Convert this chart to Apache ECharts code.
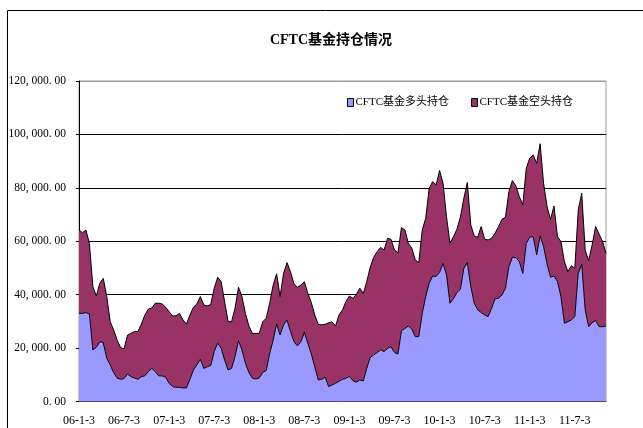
<!DOCTYPE html>
<html>
<head>
<meta charset="utf-8">
<script src="https://cdn.jsdelivr.net/npm/echarts@6/dist/echarts.min.js"></script>
<style>
  html, body { margin: 0; padding: 0; background: #fff; }
  #chart { width: 643px; height: 428px; }
</style>
</head>
<body>
<div id="chart"></div>
<script>
// half-year tick labels on the x axis
var tickLabels = ["06-1-3", "06-7-3", "07-1-3", "07-7-3", "08-1-3", "08-7-3",
  "09-1-3", "09-7-3", "10-1-3", "10-7-3", "11-1-3", "11-7-3"];

// 多头持仓 (bottom area), one point every two weeks
var longData = [
  33000, 33000, 33300, 32800, 19300, 20300, 22400, 22000, 16200, 13700, 10800, 8800, 8300,
  8600, 10300, 9300, 8800, 8300, 9300, 9600, 11200, 12400, 11200, 9600, 9600, 9100,
  6800, 5600, 5300, 5300, 5100, 5100, 8300, 11800, 13700, 15800, 12400, 13000, 13500,
  18700, 21800, 19900, 15500, 11800, 12400, 16800, 22800, 19300, 14300, 10900, 8700, 8400,
  8800, 10900, 11600, 18000, 23000, 29000, 24900, 28700, 30500, 26200, 22400, 20800, 22400,
  25900, 21800, 17800, 13000, 8100, 8300, 9100, 5600, 6200, 6800, 7600, 8300, 8700,
  9400, 7800, 7200, 8100, 7700, 12400, 16500, 17400, 18300, 19300, 18700, 19900, 20500,
  18300, 17800, 26500, 27300, 28300, 27000, 24300, 24300, 33000, 39300, 44300, 47000, 46800,
  48300, 51700, 47400, 36800, 38500, 40800, 42000, 49900, 52000, 43000, 36800, 34300, 33300,
  32400, 31800, 34900, 38500, 38600, 39900, 42400, 50500, 54000, 53900, 52400, 48000, 59200,
  61500, 61700, 54900, 62000, 58000, 51500, 46500, 47000, 44900, 39300, 29300, 29900, 30500,
  31800, 48000, 51500, 34300, 28000, 29500, 30300, 28000, 28000, 28300
];

// 空头持仓 (stacked on top)
var shortData = [
  31200, 30200, 30900, 26400, 23700, 19200, 21900, 24100, 23100, 16200, 16000, 14200, 11900,
  11100, 14600, 16200, 17400, 17900, 19700, 22800, 23400, 22600, 25600, 27200, 26900, 26200,
  26800, 26400, 26800, 27700, 25400, 23900, 24100, 23500, 22800, 23500, 23700, 22800, 22800,
  23700, 24700, 25000, 21900, 18100, 17500, 18100, 20000, 20000, 18700, 17400, 16800, 17100,
  16700, 19000, 19600, 18800, 20600, 18800, 14400, 19300, 21500, 22400, 21600, 22000, 21200,
  18900, 18700, 19300, 19400, 20800, 20400, 19800, 23900, 23600, 21500, 24800, 26000, 28700,
  30100, 30800, 32900, 34300, 32800, 32500, 33800, 36600, 37800, 38400, 38000, 41200, 40200,
  38400, 37900, 38600, 36900, 30900, 30400, 28700, 27700, 31200, 29300, 35500, 35300, 34300,
  38200, 30000, 21800, 22400, 23200, 23700, 27000, 26200, 30000, 23100, 25200, 27200, 32200,
  28300, 28700, 26200, 24500, 26900, 28300, 26600, 28100, 28700, 26800, 24300, 25600, 28100,
  29600, 30600, 34300, 34500, 23700, 21500, 21700, 26200, 16800, 20600, 23100, 18700, 20300,
  18100, 23700, 26500, 22400, 24700, 29100, 35200, 34700, 31900, 27200
];

var seriesNames = ["CFTC基金多头持仓", "CFTC基金空头持仓"];

// 13 biweekly points per half year, label only on the first one
var categories = [];
for (var k = 0; k < tickLabels.length; k++) {
  for (var j = 0; j < 13; j++) {
    categories.push(j === 0 ? tickLabels[k] : tickLabels[k] + " +" + (j * 2) + "w");
  }
}
categories.length = longData.length;

var serif = "'Liberation Serif', 'Noto Sans CJK SC', serif";

// the original font puts a gap after the separators: "120, 000. 00"
function fmt(v) {
  return v.toFixed(2).replace(/\B(?=(\d{3})+(?!\d))/g, ", ").replace(".", ". ");
}

var myChart = echarts.init(document.getElementById("chart"));
myChart.setOption({
  animation: false,
  backgroundColor: "#fff",
  graphic: [
    {
      type: "rect",
      shape: { x: 7.5, y: 10.5, width: 700, height: 500 },
      style: { fill: "none", stroke: "#000", lineWidth: 1 },
      silent: true
    }
  ],
  title: {
    text: "CFTC基金持仓情况",
    left: 326,
    textAlign: "center",
    top: 28,
    textStyle: { fontFamily: serif, fontSize: 14, fontWeight: "bold", color: "#000" }
  },
  legend: {
    data: [
      { name: seriesNames[0], itemStyle: { color: "#9999FF", borderColor: "#000", borderWidth: 1 } },
      { name: seriesNames[1], itemStyle: { color: "#993366", borderColor: "#000", borderWidth: 1 } }
    ],
    icon: "rect",
    itemWidth: 6,
    itemHeight: 8,
    itemGap: 22,
    left: 342,
    top: 92,
    textStyle: { fontFamily: serif, fontSize: 11, color: "#000", padding: [0, 0, 0, -3] }
  },
  grid: {
    left: 79,
    right: 37,
    top: 81,
    bottom: 26.5,
    show: true,
    borderColor: "#999",
    borderWidth: 1
  },
  xAxis: {
    type: "category",
    boundaryGap: false,
    data: categories,
    axisLine: { lineStyle: { color: "#000", width: 1 } },
    axisTick: { interval: 12, inside: true, length: 4, lineStyle: { color: "#000" } },
    axisLabel: {
      interval: 12,
      margin: 13,
      fontFamily: serif,
      fontSize: 12,
      color: "#000"
    },
    splitLine: { show: false }
  },
  yAxis: {
    type: "value",
    min: 0,
    max: 120000,
    interval: 20000,
    axisLine: { show: true, lineStyle: { color: "#000", width: 1 } },
    axisTick: { show: true, length: 3, lineStyle: { color: "#000" } },
    axisLabel: {
      formatter: fmt,
      margin: 13,
      fontFamily: serif,
      fontSize: 11.5,
      color: "#000"
    },
    splitLine: {
      show: true,
      lineStyle: { color: ["#000", "#000", "#000", "#000", "#000", "#000", "#999"], width: 1 }
    }
  },
  series: [
    {
      name: seriesNames[0],
      type: "line",
      stack: "pos",
      data: longData,
      symbol: "none",
      z: 3,
      itemStyle: { color: "#9999FF" },
      lineStyle: { color: "#000", width: 1 },
      areaStyle: { color: "#9999FF", opacity: 1 }
    },
    {
      name: seriesNames[1],
      type: "line",
      stack: "pos",
      data: shortData,
      symbol: "none",
      z: 2,
      itemStyle: { color: "#993366" },
      lineStyle: { color: "#000", width: 1 },
      areaStyle: { color: "#993366", opacity: 1 }
    }
  ]
});
</script>
</body>
</html>
